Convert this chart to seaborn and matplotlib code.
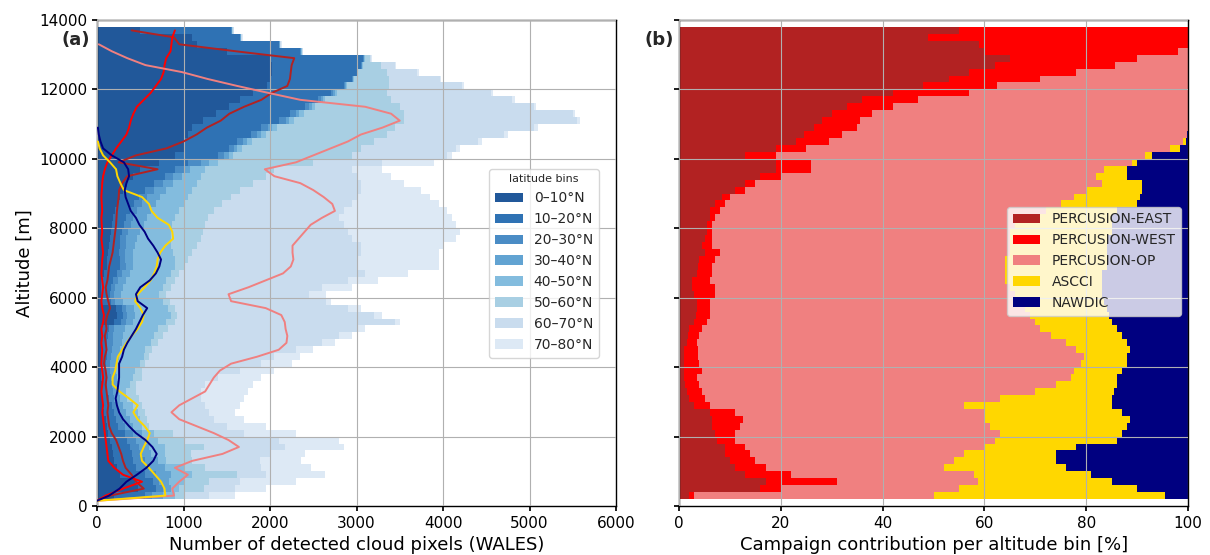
import numpy as np
import pandas as pd
import matplotlib
matplotlib.use("Agg")
import matplotlib.pyplot as plt
import seaborn as sns
from matplotlib.patches import Patch

nan = np.nan

# ---------------- altitude bins (200 m) ----------------
bin_width = 200
alt_lo, alt_hi = 200, 13800
alt_edges = np.arange(alt_lo, alt_hi + 1, bin_width)
alt_mid = (alt_edges[:-1] + alt_edges[1:]) / 2   # 300 ... 13700

# ---------------- left panel: stacked latitude bins (cumulative tops) --------
lat_labels = ["0–10°N", "10–20°N", "20–30°N", "30–40°N",
              "40–50°N", "50–60°N", "60–70°N", "70–80°N"]
lat_colors = ["#21589a", "#2f72b4", "#4a8cc5", "#62a3d2",
              "#83bcde", "#a8cfe3", "#c9dcee", "#dde9f5"]

top_0_10 = [200, 470, 440, 270, 230, 200, 180, 170, 150, 130,
            110, 100, 80, 70, 60, 60, 55, 50, 50, 45,
            45, 40, 40, 40, 45, 200, 230, 220, 60, 40,
            40, 50, 80, 110, 120, 130, 140, 150, 160, 170,
            190, 210, 240, 270, 300, 350, 420, 500, 720, 900,
            1000, 1010, 1050, 1100, 1220, 1380, 1520, 1650, 1800, 1970,
            2000, 2020, 2020, 2000, 1500, 1150, 1100, 500]
top_10_20 = [560, 680, 650, 560, 450, 420, 400, 380, 350, 320,
             240, 220, 200, 170, 140, 120, 110, 100, 100, 100,
             110, 110, 120, 130, 140, 280, 300, 290, 160, 150,
             160, 180, 230, 270, 260, 250, 260, 270, 290, 310,
             340, 380, 430, 480, 560, 660, 780, 900, 1050, 1400,
             1520, 1620, 1780, 1900, 2100, 2230, 2400, 2550, 2700, 2850,
             2950, 3000, 3050, 3080, 2350, 2100, 1650, 1550]
top_20_30 = [640, 760, 720, 680, 600, 550, 500, 480, 450, 420,
             320, 300, 260, 230, 200, 180, 170, 160, 150, 150,
             160, 170, 180, 190, 200, 330, 350, 340, 210, 200,
             210, 240, 290, 330, 320, 320, 330, 340, 360, 390,
             420, 460, 520, 580, 660, 760, 880, 1000, 1200, 1470,
             1580, 1690, 1850, 1980, 2180, 2300, 2450, 2590, 2730, 2870,
             2960, 3010, 3060, 3085, 2355, 2105, 1655, 1555]
top_30_40 = [760, 860, 830, 850, 780, 700, 620, 600, 560, 520,
             420, 380, 340, 300, 270, 250, 240, 230, 220, 230,
             250, 270, 290, 300, 320, 420, 440, 430, 300, 280,
             300, 330, 380, 420, 420, 420, 440, 460, 500, 540,
             580, 620, 680, 730, 800, 880, 980, 1080, 1300, 1520,
             1620, 1730, 1890, 2020, 2220, 2340, 2480, 2610, 2750, 2880,
             2965, 3015, 3065, 3090, 2360, 2110, 1660, 1560]
top_40_50 = [900, 950, 1000, 1100, 1000, 800, 780, 780, 700, 660,
             520, 500, 470, 420, 350, 330, 380, 420, 440, 500,
             540, 560, 620, 660, 700, 800, 850, 820, 760, 720,
             760, 800, 850, 900, 900, 880, 860, 850, 850, 870,
             900, 950, 1000, 1050, 1100, 1150, 1200, 1250, 1400, 1570,
             1680, 1790, 1950, 2080, 2280, 2390, 2520, 2640, 2770, 2890,
             2970, 3020, 3070, 3095, 2365, 2115, 1665, 1565]
top_50_60 = [1000, 1240, 1300, 1620, 1250, 1100, 1085, 1240, 1000, 880,
             600, 580, 560, 520, 480, 450, 450, 520, 520, 560,
             600, 640, 700, 760, 820, 900, 920, 900, 840, 800,
             850, 900, 950, 1000, 1050, 1100, 1150, 1200, 1230, 1250,
             1280, 1350, 1450, 1550, 1650, 1800, 1950, 2050, 2500, 2950,
             3050, 3200, 3350, 3450, 3550, 3550, 3500, 3400, 3350, 3380,
             3380, 3350, 3280, 3150, 2370, 2120, 1670, 1570]
top_60_70 = [1300, 1600, 1650, 1950, 1900, 1880, 2000, 2170, 2100, 1700,
             1500, 1350, 1300, 1250, 1200, 1200, 1250, 1400, 1650, 1900,
             2050, 2300, 2600, 2800, 3000, 3450, 3200, 2900, 2650, 2450,
             2600, 2900, 3100, 3000, 3000, 3050, 3050, 2950, 2900, 2850,
             2800, 2850, 2950, 3000, 3050, 3050, 3000, 2950, 3300, 4050,
             4150, 4400, 4700, 5050, 5550, 5500, 5050, 4800, 4550, 4220,
             3960, 3700, 3450, 3170, 2380, 2130, 1680, 1580]
top_70_80 = [1600, 1950, 2300, 2630, 2470, 2360, 2400, 2860, 2800, 2300,
             1950, 1700, 1600, 1650, 1700, 1750, 1800, 1900, 2050, 2250,
             2350, 2500, 2750, 2950, 3100, 3500, 3300, 3050, 2700, 2650,
             2950, 3250, 3600, 3950, 3950, 3950, 4000, 4150, 4200, 4150,
             4100, 4050, 3950, 3850, 3750, 3550, 3400, 3300, 3900, 4100,
             4200, 4450, 4750, 5100, 5580, 5530, 5080, 4830, 4580, 4240,
             3980, 3720, 3460, 3180, 2385, 2135, 1685, 1585]
lat_tops = [top_0_10, top_10_20, top_20_30, top_30_40,
            top_40_50, top_50_60, top_60_70, top_70_80]

# ---------------- campaign profiles (counts per bin) ----------------
camp_labels = ["PERCUSION-EAST", "PERCUSION-WEST", "PERCUSION-OP", "ASCCI", "NAWDIC"]
camp_colors = ["firebrick", "red", "lightcoral", "gold", "navy"]

# lowest profile point (profiles drop to zero at the bottom)
line_bottom_alt = 150
line_bottom_count = 0

n_east = [150, 540, 450, 400, 330, 300, 280, 250, 220, 170,
          140, 130, 120, 130, 120, 110, 100, 110, 100, 80,
          90, 110, 100, 90, 110, 100, 120, 150, 130, 110,
          100, 120, 130, 140, 160, 180, 190, 200, 210, 220,
          225, 230, 240, 250, 255, 290, 350, 700, 250, 450,
          800, 1000, 1150, 1270, 1430, 1530, 1700, 1900, 2020, 2200,
          2230, 2240, 2250, 2280, 1600, 950, 890, 400]
n_west = [100, 300, 520, 300, 200, 130, 120, 110, 100, 90,
          80, 70, 60, 70, 60, 50, 60, 70, 60, 50,
          55, 60, 50, 60, 50, 70, 80, 60, 50, 60,
          70, 60, 50, 55, 60, 70, 60, 50, 60, 55,
          50, 60, 55, 50, 55, 60, 70, 90, 120, 170,
          220, 280, 340, 370, 390, 420, 460, 540, 620, 680,
          740, 770, 780, 800, 850, 860, 870, 900]
n_op = [890, 870, 950, 1050, 900, 1100, 1450, 1640, 1520, 1350,
        1150, 950, 860, 950, 1100, 1250, 1300, 1350, 1420, 1550,
        1850, 2100, 2190, 2200, 2180, 2170, 2130, 1950, 1550, 1520,
        1750, 1950, 2150, 2240, 2270, 2260, 2260, 2330, 2400, 2470,
        2600, 2750, 2720, 2620, 2500, 2350, 2050, 1940, 2300, 2500,
        2700, 2900, 3050, 3300, 3500, 3400, 3100, 2350, 1980, 1620,
        1280, 980, 560, 350, 170, 20, nan, nan]
n_ascci = [790, 780, 740, 670, 600, 520, 505, 540, 580, 610,
           550, 470, 420, 470, 370, 260, 180, 180, 210, 225,
           240, 290, 340, 400, 470, 520, 540, 500, 440, 470,
           550, 620, 660, 690, 700, 730, 790, 880, 870, 830,
           700, 630, 600, 520, 310, 270, 235, 220, 150, 70,
           30, 10, nan, nan, nan, nan, nan, nan, nan, nan,
           nan, nan, nan, nan, nan, nan, nan, nan]
n_nawdic = [140, 260, 340, 460, 570, 650, 690, 640, 560, 450,
            370, 300, 255, 230, 215, 235, 245, 255, 255, 255,
            290, 310, 350, 400, 450, 490, 530, 580, 470, 450,
            500, 610, 680, 720, 740, 700, 650, 590, 550, 490,
            450, 390, 360, 330, 320, 340, 370, 360, 310, 170,
            70, 40, 20, 10, nan, nan, nan, nan, nan, nan,
            nan, nan, nan, nan, nan, nan, nan, nan]
camp_counts = [n_east, n_west, n_op, n_ascci, n_nawdic]

# ---------------- right panel: cumulative campaign share [%] ----------------
pct_east = [2, 16, 17, 13, 11, 10, 9, 9, 7.5, 7,
            6.5, 6.5, 6, 3, 2, 1.5, 1.2, 1, 1, 1,
            1, 1, 1.5, 1.8, 2, 3, 3.3, 3.5, 3.5, 3,
            2.5, 2.5, 3.5, 3.8, 4, 5, 4.5, 5, 5.5, 5.5,
            6, 6, 7, 8.5, 11, 13, 16, 19, 19, 13,
            19, 23, 24.5, 26.5, 28, 30, 33, 36, 42, 48,
            53, 57, 62, 65, 60, 59, 49, 55]
pct_upto_west = [3, 20, 31, 22, 17, 15, 14, 13, 11, 11,
                 12, 12.5, 11, 6, 5, 4.5, 4, 3.5, 4.5, 4,
                 3.8, 3.8, 3.5, 4, 4.5, 5.5, 6, 6, 6, 7,
                 7, 6, 6.5, 6.5, 7, 8, 6.5, 6.5, 6.5, 6.5,
                 7, 8, 9, 10, 13, 15, 20, 26, 26, 19,
                 25, 29.5, 32, 35, 35.5, 38, 42, 47, 57, 62.5,
                 71, 78, 85.7, 90, 98, 100, 100, 100]
pct_upto_op = [50, 55, 58.8, 58, 52, 54, 56, 60, 62, 63,
               61, 60, 60, 56, 63, 70, 74, 77, 77.5, 79,
               79.5, 78, 76, 73, 71, 70, 69, 68, 67, 66,
               65, 64, 64, 64, 64, 65, 65, 65, 65, 66,
               68, 72, 75, 77.5, 80, 83, 82, 83.5, 89, 91.5,
               96.5, 99, 99.8, 100, 100, 100, 100, 100, 100, 100,
               100, 100, 100, 100, 100, 100, 100, 100]
pct_upto_ascci = [95.5, 90, 85, 81, 76, 74, 74, 78, 86, 87,
                  88, 88.5, 87, 85, 85, 85.5, 86, 86, 87, 88,
                  88, 88.5, 88, 87, 86, 85, 84.5, 84, 83.5, 83,
                  83, 83, 83, 84, 84, 84, 84, 84, 85, 85,
                  85, 86, 90, 90.5, 91, 91, 88, 88, 90, 93,
                  98.5, 99.5, 99.8, 100, 100, 100, 100, 100, 100, 100,
                  100, 100, 100, 100, 100, 100, 100, 100]
pct_upto_nawdic = [100] * 68
camp_pct_tops = [pct_east, pct_upto_west, pct_upto_op, pct_upto_ascci, pct_upto_nawdic]

# ---------------- style ----------------
sns.set_theme(style="ticks")
plt.rcParams["font.family"] = ["DejaVu Sans"]
plt.rcParams.update({
    "axes.edgecolor": "black", "axes.linewidth": 1.0,
    "xtick.labelsize": 11, "ytick.labelsize": 11,
    "xtick.color": "black", "ytick.color": "black",
    "xtick.major.size": 3.5, "ytick.major.size": 3.5,
    "axes.labelsize": 13, "axes.labelcolor": "black",
})


def stacked_long(tops, labels, valname):
    frames = []
    prev = np.zeros(len(alt_mid))
    for lab, top in zip(labels, tops):
        top = np.asarray(top, dtype=float)
        frames.append(pd.DataFrame({"alt": alt_mid,
                                    valname: np.maximum(top - prev, 0),
                                    "grp": lab}))
        prev = np.maximum(top, prev)
    return pd.concat(frames, ignore_index=True)


fig = plt.figure(figsize=(12.1, 5.55), dpi=100)
ax1 = fig.add_axes([0.0802, 0.0883, 0.4289, 0.8757])
ax2 = fig.add_axes([0.5612, 0.0883, 0.4207, 0.8757], sharey=ax1)

hist_kws = dict(y="alt", hue="grp", multiple="stack", binwidth=bin_width,
                binrange=(alt_lo, alt_hi), element="step", fill=True,
                alpha=1, linewidth=0, legend=False)

# ---- (a) ----
df_lat = stacked_long(lat_tops, lat_labels, "count")
sns.histplot(data=df_lat, weights="count", hue_order=lat_labels[::-1],
             palette=dict(zip(lat_labels, lat_colors)), ax=ax1, **hist_kws)

line_alt = np.concatenate([[line_bottom_alt], alt_mid])
for lab, vals, col in zip(camp_labels, camp_counts, camp_colors):
    n = np.concatenate([[line_bottom_count], np.asarray(vals, dtype=float)])
    d = pd.DataFrame({"alt": line_alt, "n": n}).dropna()
    sns.lineplot(data=d, x="n", y="alt", orient="y", sort=False, estimator=None,
                 color=col, lw=1.4, ax=ax1, zorder=3)

ax1.set_xlim(0, 6000)
ax1.set_ylim(0, 14000)
ax1.set_xticks(np.arange(0, 6001, 1000))
ax1.set_yticks(np.arange(0, 14001, 2000))
ax1.set_xlabel("Number of detected cloud pixels (WALES)")
ax1.set_ylabel("Altitude [m]")
ax1.grid(True, color="#b0b0b0", linewidth=0.8)
ax1.set_axisbelow(False)
lat_handles = [Patch(facecolor=c, edgecolor="none", label=l) for l, c in zip(lat_labels, lat_colors)]
ax1.legend(handles=lat_handles, title="latitude bins", loc="upper right",
           bbox_to_anchor=(0.98, 0.708), fontsize=10, title_fontsize=8,
           frameon=True, framealpha=0.8, edgecolor="#cccccc", fancybox=True)
ax1.text(-0.068, 0.958, "(a)", transform=ax1.transAxes, fontsize=13,
         fontweight="bold", ha="left", va="center")

# ---- (b) ----
df_camp = stacked_long(camp_pct_tops, camp_labels, "pct")
sns.histplot(data=df_camp, weights="pct", hue_order=camp_labels[::-1],
             palette=dict(zip(camp_labels, camp_colors)), ax=ax2, **hist_kws)
ax2.set_xlim(0, 100)
ax2.set_ylim(0, 14000)
ax2.set_xticks(np.arange(0, 101, 20))
ax2.set_xlabel("Campaign contribution per altitude bin [%]")
ax2.set_ylabel("")
ax2.tick_params(axis="y", labelleft=False)
ax2.grid(True, color="#b0b0b0", linewidth=0.8)
ax2.set_axisbelow(False)
camp_handles = [Patch(facecolor=c, edgecolor="none", label=l) for l, c in zip(camp_labels, camp_colors)]
ax2.legend(handles=camp_handles, loc="upper right", bbox_to_anchor=(1.0, 0.63),
           fontsize=10, frameon=True, framealpha=0.8, edgecolor="#cccccc", fancybox=True)
ax2.text(-0.067, 0.958, "(b)", transform=ax2.transAxes, fontsize=13,
         fontweight="bold", ha="left", va="center")

fig.savefig("out.png", dpi=100)
